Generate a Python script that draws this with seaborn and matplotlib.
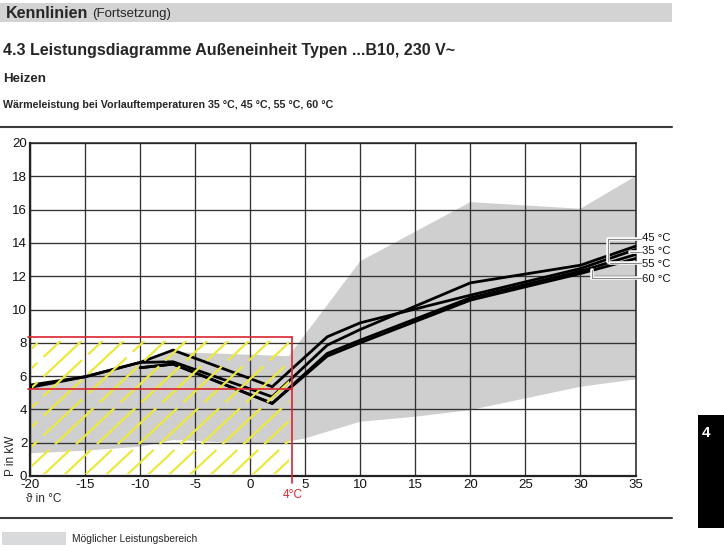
import numpy as np
import pandas as pd
import matplotlib
matplotlib.use("Agg")
import matplotlib.pyplot as plt
import matplotlib.patheffects as pe
from matplotlib.patches import Rectangle
import seaborn as sns

# ---------------- data ----------------
x_ticks = [-20, -15, -10, -5, 0, 5, 10, 15, 20, 25, 30, 35]
x_tick_labels = ["-20", "-15", "-10", "-5", "0", "5", "10", "15", "20", "25", "30", "35"]
y_ticks = [0, 2, 4, 6, 8, 10, 12, 14, 16, 18, 20]

# heating capacity curves (outside temperature -> kW)
x_35 = [-20, -15, -10, -7, 2, 7, 10, 20, 30, 35]
y_35 = [5.46, 5.96, 6.82, 7.56, 5.36, 8.36, 9.2, 10.86, 12.46, 13.6]
x_45 = [-20, -15, -10, -7, 2, 7, 10, 20, 30, 35]
y_45 = [5.32, 5.96, 6.82, 6.86, 4.76, 7.86, 8.8, 11.6, 12.66, 13.8]
x_55 = [-10, -7, 2, 7, 10, 20, 30, 35]
y_55 = [6.5, 6.72, 4.36, 7.36, 8.16, 10.7, 12.3, 13.3]
x_60 = [-10, -7, 2, 7, 10, 20, 30, 35]
y_60 = [6.5, 6.72, 4.36, 7.2, 8.0, 10.56, 12.16, 13.06]

# possible performance range (grey band)
band_upper_x = [-20, -15, -10, -7, 3.5, 10, 20, 30, 35]
band_upper_y = [5.3, 5.9, 6.7, 7.45, 7.2, 12.9, 16.45, 16.05, 18.0]
band_lower_x = [-20, -15, -10, -7, 0, 3, 5, 10, 15, 20, 25, 30, 35]
band_lower_y = [1.36, 1.52, 1.76, 2.16, 1.95, 2.0, 2.26, 3.26, 3.56, 3.96, 4.66, 5.36, 5.8]

# red marked region
red_x_left = -20.2
red_x_limit = 3.77
red_y_top = 8.32
red_y_mid = 5.2

series_names = ["45 °C", "35 °C", "55 °C", "60 °C"]

# ---------------- style ----------------
sns.set_theme(style="white")
plt.rcParams["font.family"] = ["Liberation Sans", "DejaVu Sans"]
plt.rcParams["lines.scale_dashes"] = False

W, H = 724, 551
fig = plt.figure(figsize=(W / 100, H / 100), dpi=100)
fig.patch.set_facecolor("white")

def fx(px):
    return px / W

def fy(py):
    return 1 - py / H

ax = fig.add_axes([fx(30), fy(476), (635.5 - 30) / W, (476 - 143) / H])
ax.set_xlim(-20, 35)
ax.set_ylim(0, 20)
ax.set_facecolor("white")

# grey band
poly_x = list(band_upper_x) + list(band_lower_x)[::-1]
poly_y = list(band_upper_y) + list(band_lower_y)[::-1]
ax.fill(poly_x, poly_y, color="#cfcfcf", lw=0, zorder=1)

# grid
ax.set_axisbelow("line")
ax.set_xticks(x_ticks)
ax.set_xticklabels(x_tick_labels)
ax.set_yticks(y_ticks)
ax.grid(True, color="#333333", lw=0.95)
ax.tick_params(length=0, labelsize=9.5, colors="#111111", pad=2)
ax.tick_params(axis="x", pad=2.5)
for s in ax.spines.values():
    s.set_color("#222222")
    s.set_linewidth(1.1)
ax.spines["left"].set_linewidth(1.6)
ax.spines["bottom"].set_linewidth(1.6)

# curves
df = pd.concat([
    pd.DataFrame({"x": x_45, "y": y_45, "s": "45 °C"}),
    pd.DataFrame({"x": x_35, "y": y_35, "s": "35 °C"}),
    pd.DataFrame({"x": x_55, "y": y_55, "s": "55 °C"}),
    pd.DataFrame({"x": x_60, "y": y_60, "s": "60 °C"}),
])
sns.lineplot(data=df, x="x", y="y", hue="s", units="s", estimator=None, sort=False,
             palette=["black"] * 4, lw=2.0, legend=False, ax=ax, zorder=3)
for ln in ax.lines:
    ln.set_solid_joinstyle("miter")
ax.set_xlabel("")
ax.set_ylabel("")

# yellow hatch within red region
clip = Rectangle((-19.8, 0.15), red_x_limit - 0.2 + 19.8, red_y_top - 0.35,
                 transform=ax.transData, facecolor="none", edgecolor="none")
ax.add_patch(clip)
k = 0.62
for c in np.arange(-36, 6, 1.9):
    yy = np.array([-0.6, 9.5])
    xx = c + yy / k
    ln, = ax.plot(xx, yy, color="#ece93e", lw=1.6, zorder=4,
                  dashes=(38, 6), solid_capstyle="butt")
    ln.set_clip_path(clip)

# red lines
red = "#d9252f"
ax.plot([red_x_left, red_x_limit], [red_y_top, red_y_top], color=red, lw=1.2, zorder=5, clip_on=False)
ax.plot([red_x_left, red_x_limit], [red_y_mid, red_y_mid], color=red, lw=1.2, zorder=5, clip_on=False)
ax.plot([red_x_limit, red_x_limit], [red_y_top, -0.45], color=red, lw=1.2, zorder=5, clip_on=False)
ax.text(3.85, -1.12, "4°C", color=red, fontsize=8.6, ha="center", va="center", clip_on=False)

# leader lines & labels
def px2dx(px):
    return (px - 30) / 11.0 - 20

def py2dy(py):
    return (476 - py) / 16.65

leaders = [
    [(640, 239), (608, 239), (608, 262)],
    [(640, 252), (630, 252)],
    [(640, 263), (610, 263)],
    [(640, 278), (592, 278), (592, 270)],
]
label_y = [238, 251.5, 264, 278.5]
for pts, name, ly in zip(leaders, series_names, label_y):
    ax.plot([px2dx(p[0]) for p in pts], [py2dy(p[1]) for p in pts], color="#8a8a8a", lw=0.8,
            zorder=6, clip_on=False,
            path_effects=[pe.Stroke(linewidth=2.6, foreground="white"), pe.Normal()])
    fig.text(fx(642), fy(ly), name, fontsize=8.2, ha="left", va="center", color="#111111")

# axis labels
fig.text(fx(11), fy(456), "P in kW", rotation=90, fontsize=8.5, ha="center", va="center")
fig.text(fx(26), fy(499), "ϑ in °C", fontsize=8.5, ha="left", va="center")

# ---------------- page decorations ----------------
fig.patches.append(Rectangle((0, fy(22)), fx(672), (22 - 3) / H, transform=fig.transFigure,
                             facecolor="#d3d3d3", edgecolor="none"))
fig.text(fx(6), fy(13), "Kennlinien", fontsize=11.5, fontweight="bold", ha="left", va="center")
fig.text(fx(92), fy(13.5), "(Fortsetzung)", fontsize=9.5, ha="left", va="center")
fig.text(fx(3), fy(50), "4.3 Leistungsdiagramme Außeneinheit Typen ...B10, 230 V~",
         fontsize=11.5, fontweight="bold", ha="left", va="center")
fig.text(fx(3), fy(79), "Heizen", fontsize=9.6, fontweight="bold", ha="left", va="center")
fig.text(fx(3), fy(105), "Wärmeleistung bei Vorlauftemperaturen 35 °C, 45 °C, 55 °C, 60 °C",
         fontsize=7.7, fontweight="bold", ha="left", va="center")
fig.lines.append(plt.Line2D([0, fx(672)], [fy(127), fy(127)], transform=fig.transFigure,
                            color="#3c3c3c", lw=1.5))
fig.lines.append(plt.Line2D([0, fx(672)], [fy(518), fy(518)], transform=fig.transFigure,
                            color="#3c3c3c", lw=1.5))
fig.patches.append(Rectangle((fx(2), fy(545)), fx(64), 13 / H, transform=fig.transFigure,
                             facecolor="#d9dadb", edgecolor="none"))
fig.text(fx(72), fy(538.5), "Möglicher Leistungsbereich", fontsize=7.4, ha="left", va="center")
fig.patches.append(Rectangle((fx(698), fy(528)), fx(26), (528 - 415) / H, transform=fig.transFigure,
                             facecolor="black", edgecolor="none"))
fig.text(fx(706), fy(433), "4", fontsize=11, fontweight="bold", color="white", ha="center", va="center")

fig.savefig("out.png", dpi=100)
